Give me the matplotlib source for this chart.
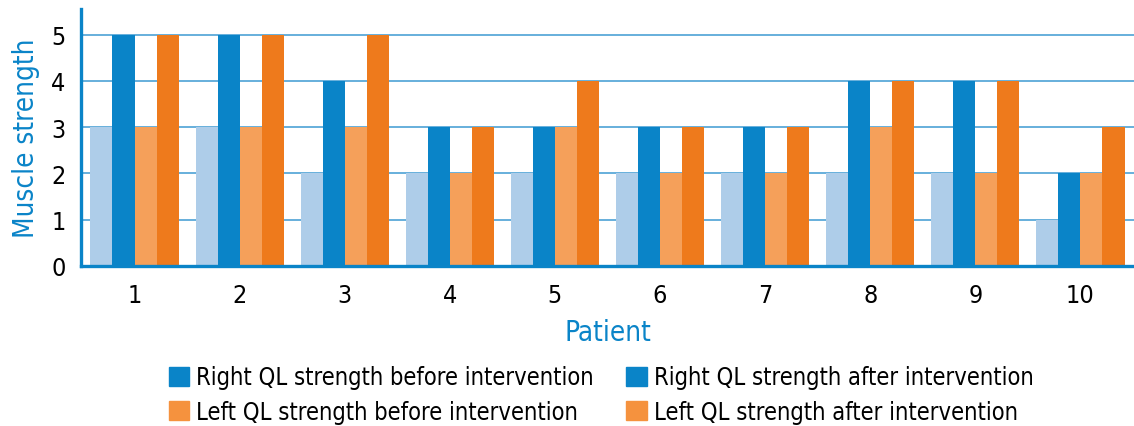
import matplotlib.pyplot as plt
import matplotlib.patches as mpatches
import numpy as np

plt.rcParams['font.family'] = ['DejaVu Sans']
plt.rcParams['font.stretch'] = 'condensed'

patients = ['1', '2', '3', '4', '5', '6', '7', '8', '9', '10']
right_before = [3, 3, 2, 2, 2, 2, 2, 2, 2, 1]
right_after = [5, 5, 4, 3, 3, 3, 3, 4, 4, 2]
left_before = [3, 3, 3, 2, 3, 2, 2, 3, 2, 2]
left_after = [5, 5, 5, 3, 4, 3, 3, 4, 4, 3]

labels = ['Right QL strength before intervention',
          'Right QL strength after intervention',
          'Left QL strength before intervention',
          'Left QL strength after intervention']
bar_colors = ['#aecde9', '#0a84c8', '#f5a05a', '#ee7a1c']
legend_colors = ['#0a84c8', '#0a84c8', '#f5923e', '#f5923e']
blue = '#0a84c8'

fig = plt.figure(figsize=(11.34, 4.27), dpi=100)
ax = fig.add_axes([0.0714, 0.375, 0.9286, 0.602])

x = np.arange(len(patients))
w = 0.21
series = [right_before, right_after, left_before, left_after]
for i, vals in enumerate(series):
    ax.bar(x + (i - 1.5) * w, vals, w, color=bar_colors[i], zorder=3)

ax.set_xlim(-0.51, len(patients) - 0.49)
ax.set_ylim(0, 5.56)
ax.set_yticks(range(6))
ax.set_xticks(x)
ax.set_xticklabels(patients)
ax.tick_params(length=0, labelsize=18, colors='black')
ax.tick_params(axis='x', pad=12)
ax.tick_params(axis='y', pad=11)
ax.yaxis.grid(True, color='#5aa9d9', linewidth=1.3, zorder=0)
ax.set_axisbelow(True)
for s in ['top', 'right']:
    ax.spines[s].set_visible(False)
for s in ['left', 'bottom']:
    ax.spines[s].set_color(blue)
    ax.spines[s].set_linewidth(2.4)
    ax.spines[s].set_zorder(4)

ax.set_xlabel('Patient', color=blue, fontsize=20, labelpad=8)
ax.set_ylabel('Muscle strength', color=blue, fontsize=20, labelpad=8)

handles = [mpatches.Patch(color=c, label=l) for c, l in zip(legend_colors, labels)]
order = [0, 2, 1, 3]
fig.legend([handles[i] for i in order], [labels[i] for i in order], ncol=2,
           loc='lower center', bbox_to_anchor=(0.53, -0.045), frameon=False,
           fontsize=17, handlelength=0.85, handleheight=0.85, handletextpad=0.3,
           columnspacing=1.4, labelspacing=0.45)

fig.savefig('out.png', dpi=100)
